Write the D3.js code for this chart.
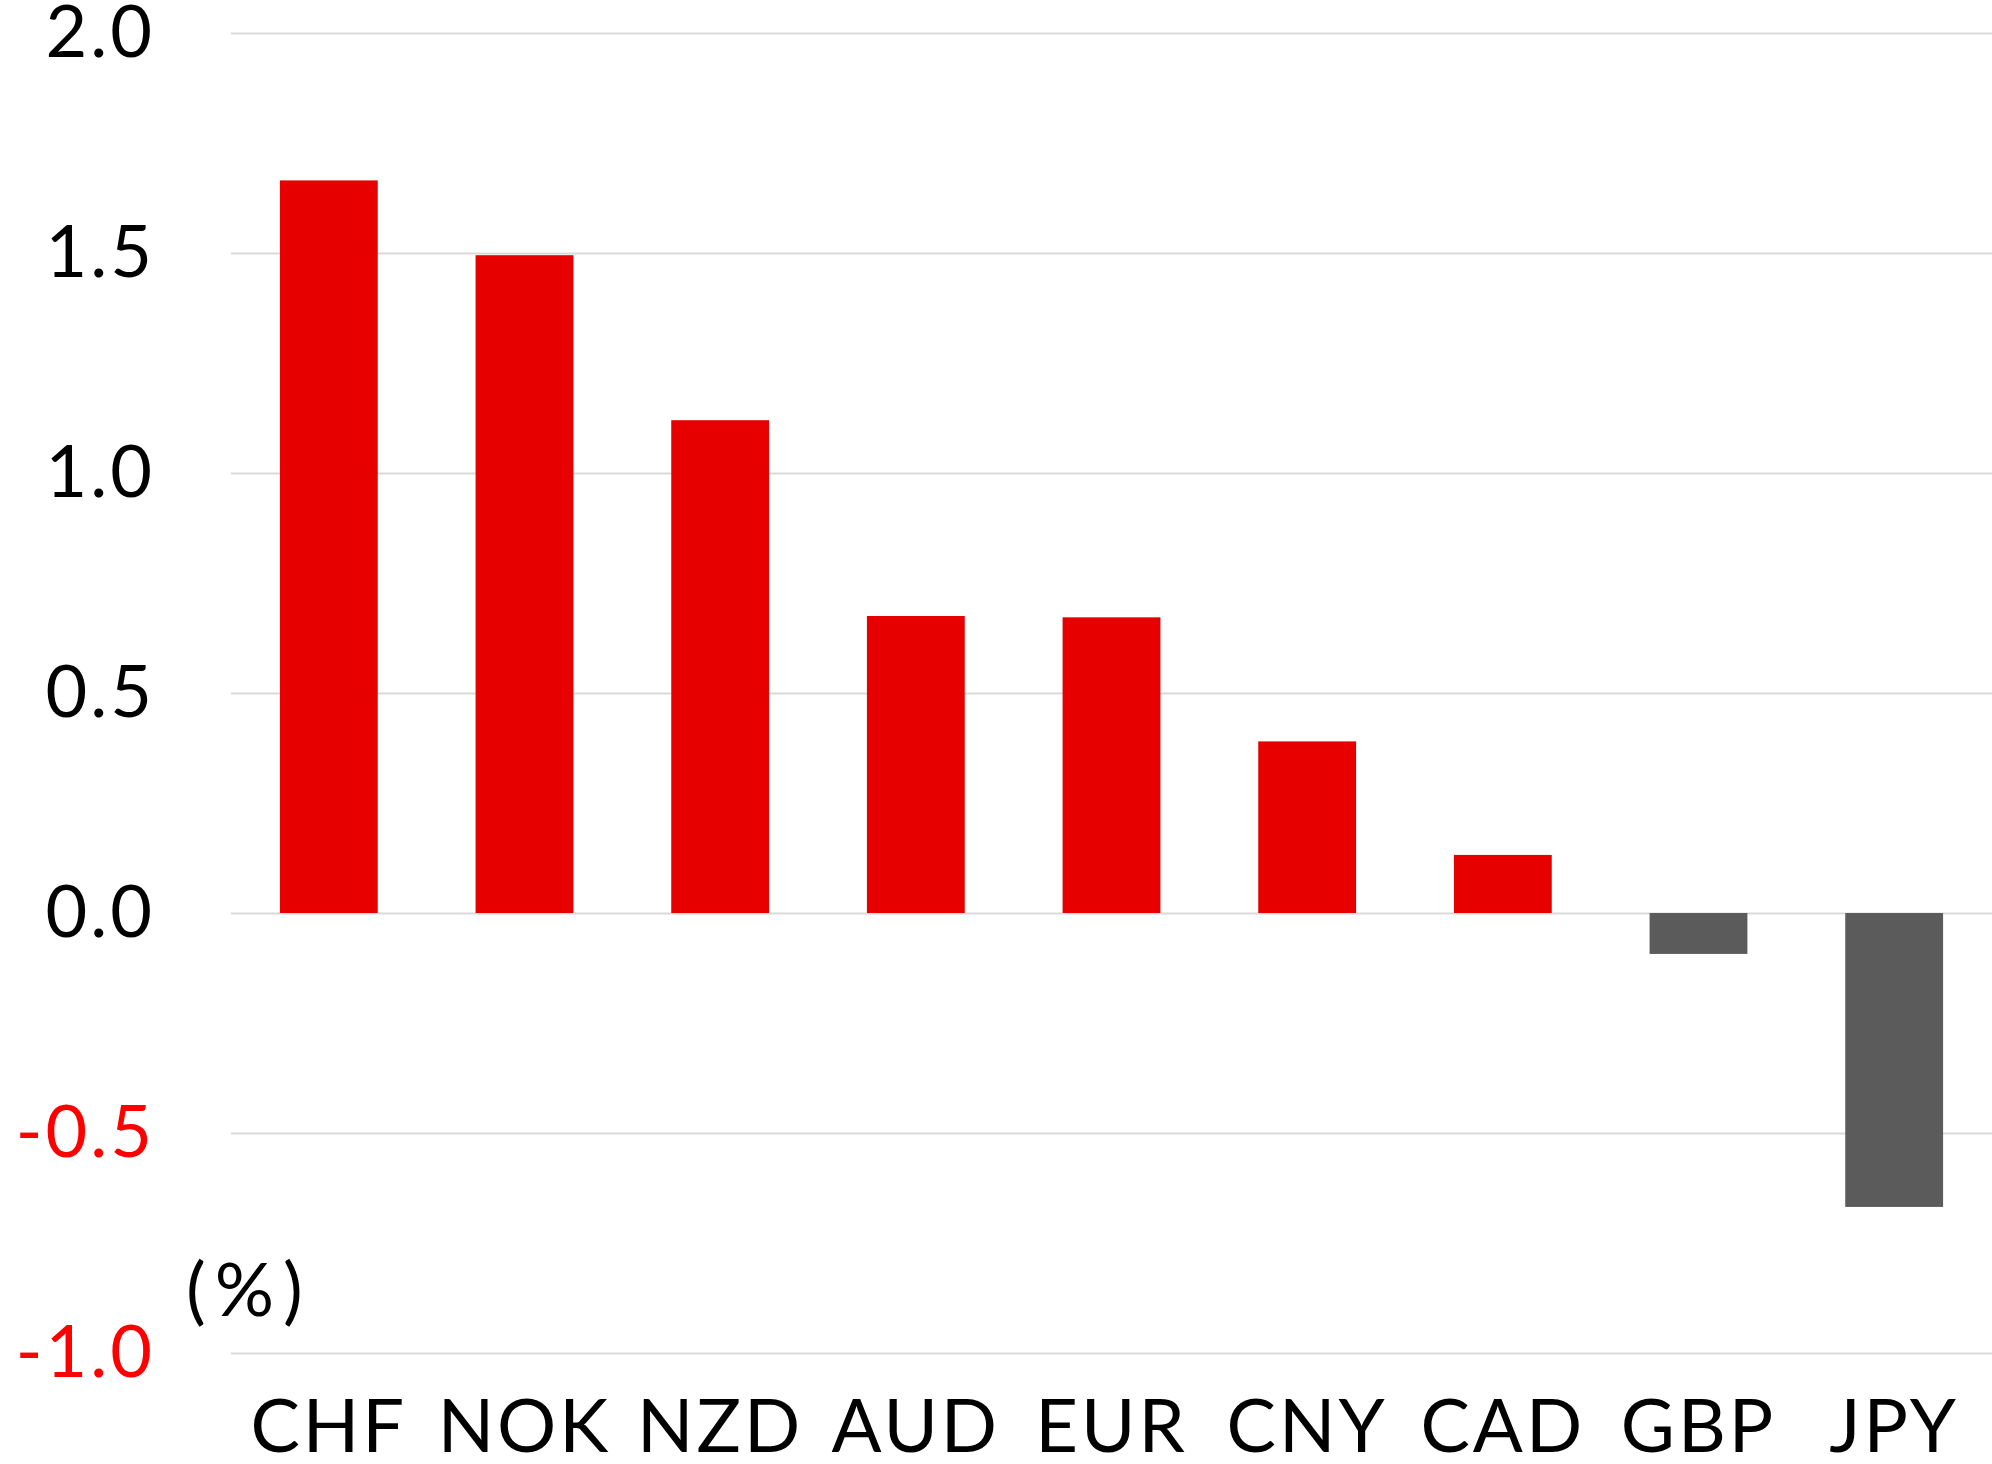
<!DOCTYPE html>
<html>
<head>
<meta charset="utf-8">
<script src="https://cdn.jsdelivr.net/npm/d3@7"></script>
<style>
  html, body { margin: 0; padding: 0; background: #fff; }
  svg { display: block; font-family: "Lato", "Noto Sans", sans-serif; }
</style>
</head>
<body>
<figure id="bars" style="margin:0"></figure>
<script>
const currencies = ["CHF", "NOK", "NZD", "AUD", "EUR", "CNY", "CAD", "GBP", "JPY"];
const changes = [1.665, 1.495, 1.12, 0.675, 0.672, 0.39, 0.132, -0.093, -0.668];
const yTicks = [-1.0, -0.5, 0.0, 0.5, 1.0, 1.5, 2.0];
const unitLabel = "(%)";

const W = 1992, H = 1464;
const plotLeft = 231, plotRight = 1992, plotTop = 33, plotBottom = 1353;

const svg = d3.select("figure#bars")
  .append("svg")
  .attr("width", W)
  .attr("height", H);

const x = d3.scaleBand()
  .domain(currencies)
  .range([plotLeft, plotRight])
  .paddingInner(0.5)
  .paddingOuter(0.25);

const y = d3.scaleLinear()
  .domain([-1, 2])
  .range([plotBottom, plotTop]);

// y axis + gridlines
const fmt = d3.format(".1f");
const yAxis = svg.append("g")
  .attr("transform", "translate(" + plotLeft + ",0)")
  .call(d3.axisLeft(y)
    .tickValues(yTicks)
    .tickSize(-(plotRight - plotLeft))
    .tickPadding(76)
    .tickFormat(d => fmt(d).replace("\u2212", "-")));
yAxis.select(".domain").remove();
yAxis.selectAll(".tick line")
  .attr("stroke", "#d9d9d9")
  .attr("stroke-width", 2);
yAxis.selectAll(".tick text")
  .attr("font-size", "72px")
  .attr("font-family", "Lato, 'Noto Sans', sans-serif")
  .attr("letter-spacing", "3px")
  .attr("fill", d => d < 0 ? "#ff0000" : "#000");

// bars
svg.append("g")
  .selectAll("rect")
  .data(currencies.map((c, i) => ({name: c, val: changes[i]})))
  .enter()
  .append("rect")
  .attr("x", d => x(d.name))
  .attr("width", x.bandwidth())
  .attr("y", d => y(Math.max(0, d.val)))
  .attr("height", d => Math.abs(y(d.val) - y(0)))
  .attr("fill", d => d.val >= 0 ? "#e60000" : "#5b5b5b");

// x axis labels
const xAxis = svg.append("g")
  .attr("transform", "translate(0," + plotBottom + ")")
  .call(d3.axisBottom(x).tickSize(0).tickPadding(0));
xAxis.select(".domain").remove();
xAxis.selectAll(".tick text")
  .attr("y", 99)
  .attr("dy", null)
  .attr("font-size", "74px")
  .attr("font-family", "Lato, 'Noto Sans', sans-serif")
  .attr("letter-spacing", "3px")
  .attr("fill", "#000");

// unit label
svg.append("text")
  .attr("x", 186)
  .attr("y", 1316)
  .attr("font-size", "74px")
  .attr("letter-spacing", "9px")
  .attr("fill", "#000")
  .text(unitLabel);
</script>
</body>
</html>
